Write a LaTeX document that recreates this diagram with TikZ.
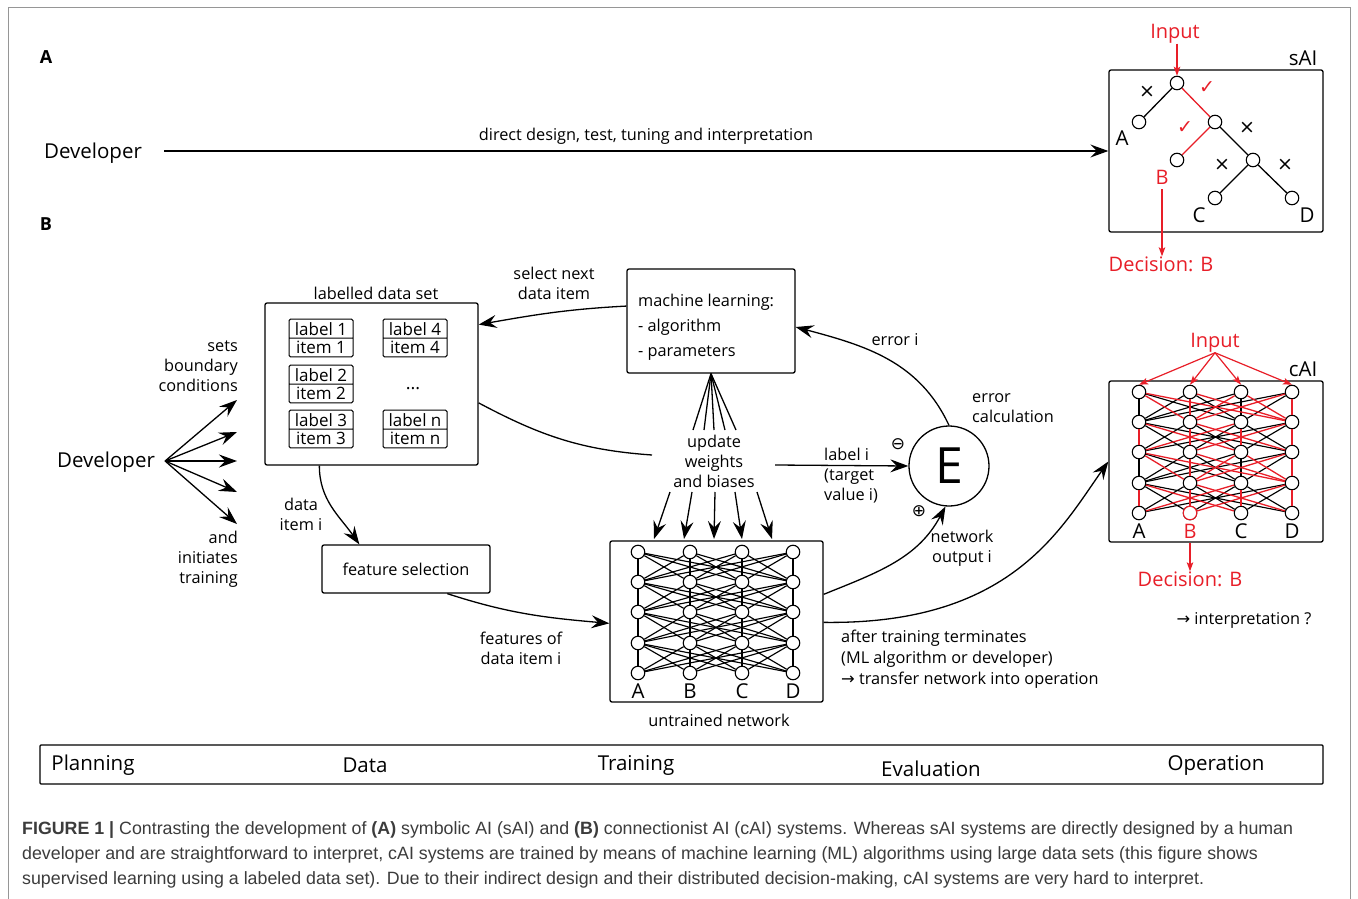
\documentclass[tikz,border=0pt]{standalone}
\usepackage{fontspec}
\setmainfont{Open Sans}
\newfontfamily\sym{DejaVu Sans}
\newfontfamily\capfont{Liberation Sans}
\usetikzlibrary{arrows.meta,shapes.multipart}
\definecolor{myred}{RGB}{232,30,40}
\definecolor{capgray}{RGB}{60,60,60}
\definecolor{framegray}{RGB}{150,150,150}
\begin{document}
\begin{tikzpicture}[x=1pt,y=-1pt,
 every node/.style={inner sep=0pt},
 lab/.style={font=\fontsize{16.3}{20}\selectfont, align=center},
 big/.style={font=\fontsize{20.5}{24}\selectfont},
 phs/.style={font=\fontsize{20.5}{24}\selectfont},
 redt/.style={font=\fontsize{20}{24}\selectfont, text=myred},
 box/.style={draw, line width=1.3pt, rounded corners=2pt},
 arr/.style={line width=1.3pt, -{Stealth[length=18pt,width=13pt,inset=6.5pt]}},
 rarr/.style={myred, line width=1.2pt, -{Stealth[length=9pt,width=6.5pt,inset=2pt]}},
 ln/.style={line width=1.3pt},
 neuron/.style={circle, draw, line width=1.1pt, fill=white, minimum size=13.5pt},
 netln/.style={line width=1.15pt},
 itembox/.style={rectangle split, rectangle split parts=2, draw, line width=1pt, rounded corners=1.5pt, minimum width=64pt, inner xsep=2pt, inner ysep=2.5pt, font=\fontsize{17}{19}\selectfont},
 tickmark/.style={font=\sym\fontsize{19}{19}\selectfont},
 captext/.style={font=\capfont\fontsize{17.8}{20}\selectfont, text=capgray, anchor=west},
]
\useasboundingbox (0,0) rectangle (1358,899);
\fill[white] (0,0) rectangle (1358,899);
\draw[framegray, line width=1pt] (8,905) -- (8,8) -- (1350,8) -- (1350,905);

% ---------------- Part A ----------------
\node[font=\bfseries\fontsize{18}{20}\selectfont] (lA) at (46,57) {A};
\node[font=\bfseries\fontsize{18}{20}\selectfont] (lB) at (46,224) {B};
\node[big] (dev1) at (93,153) {Developer};
\node[box, minimum width=214pt, minimum height=162pt] (sai) at (1216,151) {};
\draw[arr] ([xshift=22pt]dev1.east |- sai.west) -- (sai.west);
\node[lab] (dd) at (646,136) {direct design, test, tuning and interpretation};
\node[big] (saiT) at (1303,58) {sAI};

\node[neuron] (t0) at (1177,83) {};
\node[neuron] (tA) at (1139,122) {};
\node[neuron] (t1) at (1215,122) {};
\node[neuron] (tB) at (1177,160) {};
\node[neuron] (t2) at (1253,160) {};
\node[neuron] (tC) at (1215,198) {};
\node[neuron] (tD) at (1292,198) {};
\draw[ln] (t0) -- (tA);
\draw[ln, myred] (t0) -- (t1);
\draw[ln, myred] (t1) -- (tB);
\draw[ln] (t1) -- (t2);
\draw[ln] (t2) -- (tC);
\draw[ln] (t2) -- (tD);
\node[big] (lbA) at (1122,138) {A};
\node[redt] (lbB) at (1162,177) {B};
\node[big] (lbC) at (1199,215) {C};
\node[big] (lbD) at (1307,215) {D};
\node[tickmark] (x1) at (1147,92) {×};
\node[tickmark] (x2) at (1247,128) {×};
\node[tickmark] (x3) at (1222,165) {×};
\node[tickmark] (x4) at (1285,165) {×};
\node[tickmark, text=myred] (v1) at (1207,88) {✓};
\node[tickmark, text=myred] (v2) at (1185,128) {✓};
\node[redt] (inS) at (1175,34) {Input};
\draw[rarr] (inS.south -| t0) -- (t0.north);
\node[redt] (decS) at (1161,264) {Decision: B};
\draw[rarr] ([yshift=-5pt]lbB.south) -- (lbB |- decS.north);

% ---------------- Part B ----------------
\node[big] (dev2) at (106,462) {Developer};
\coordinate (hub) at ([xshift=10pt]dev2.east |- 0,461);
\foreach \y [count=\k] in {400,432,461,492,524} {
  \coordinate (fan\k) at (237,\y);
  \draw[arr] (hub) -- (fan\k);
}
\node[lab, anchor=east, align=right] (sbc) at (238,366) {sets\\boundary\\conditions};
\node[lab, anchor=east, align=right] (ait) at (238,559) {and\\initiates\\training};

% labelled data set
\node[lab] (dsT) at (376,293) {labelled data set};
\node[box, minimum width=213pt, minimum height=162pt] (dset) at (371.5,384) {};
\node[itembox] (it1) at (321,338) {label 1\nodepart{two}item 1};
\node[itembox] (it2) at (321,384) {label 2\nodepart{two}item 2};
\node[itembox] (it3) at (321,429) {label 3\nodepart{two}item 3};
\node[itembox] (it4) at (415,338) {label 4\nodepart{two}item 4};
\node[itembox] (itn) at (415,429) {label n\nodepart{two}item n};
\node[font=\fontsize{18}{18}\selectfont] (dots) at (413,389) {...};

% machine learning
\node[lab] (sel) at (554,283) {select next\\data item};
\node[box, minimum width=168pt, minimum height=104pt] (ml) at (711,321) {};
\node[lab, anchor=west, align=left, font=\fontsize{16.3}{25}\selectfont] (mlt) at (638,327) {machine learning:\\- algorithm\\- parameters};
\draw[arr] (ml.170) to[out=183,in=10] (dset.29);

% update weights
\node[lab] (upd) at (714,461) {update\\weights\\and biases};
\coordinate (updL) at (652,455);
\coordinate (updR) at (775,465);
\draw[ln] (dset.-10) to[out=-28,in=176] (updL);
\foreach \x [count=\k] in {693,704,714,725,736} {
  \coordinate (uf\k) at (\x,430);
  \draw[ln] (ml.south) -- (uf\k);
}
\foreach \xa/\xb [count=\k] in {670/654,692/684,715/714,735/742,757/772} {
  \coordinate (ua\k) at (\xa,492);
  \coordinate (ub\k) at (\xb,539);
  \draw[arr] (ua\k) -- (ub\k);
}

% untrained network
\node[box, minimum width=213pt, minimum height=161pt] (net) at (716.5,621.5) {};
\foreach \r/\y in {1/552,2/582,3/612,4/643,5/673} {
  \foreach \c/\x in {1/638,2/690,3/742,4/793} {
    \node[neuron] (u\r\c) at (\x,\y) {};
  }
}
\foreach \r in {1,...,4} {
  \pgfmathtruncatemacro\s{\r+1}
  \foreach \i in {1,...,4} {
    \foreach \j in {1,...,4} {
      \draw[netln] (u\r\i) -- (u\s\j);
    }
  }
}
\foreach \x/\t in {638/A,690/B,742/C,793/D} {
  \node[big] (ul\t) at (\x,691) {\t};
}
\node[lab] (untr) at (719,720) {untrained network};

% error calculation
\node[circle, draw, line width=1.3pt, minimum size=80pt, font=\fontsize{50}{50}\selectfont] (E) at (949,466) {E};
\node[font=\sym\fontsize{17}{17}\selectfont] (minus) at (898,444) {⊖};
\node[font=\sym\fontsize{17}{17}\selectfont] (plus) at (919,511) {⊕};
\node[lab, anchor=west, align=left] (lbi) at (824,476) {label i\\(target\\value i)};
\draw[arr] (updR) -- (E.west);
\node[lab, anchor=west, align=left] (errc) at (972,408) {error\\calculation};
\node[lab] (erri) at (895,340) {error i};
\draw[arr] (E.north) to[out=115,in=-15] ([yshift=-6pt]ml.east);
\node[lab] (nout) at (962,548) {network\\output i};
\draw[arr] ([yshift=-54pt]net.north east) to[out=22,in=-118] (E.-95);

% feature selection
\node[box, lab, minimum width=168pt, minimum height=48pt] (feat) at (406,569) {feature selection};
\draw[arr] ([xshift=55pt]dset.south west) to[out=-90,in=125] ([xshift=38pt]feat.north west);
\node[lab] (dii) at (301,514) {data\\item i};
\draw[arr] ([xshift=126pt]feat.south west) to[out=-18,in=175] ([yshift=-83pt]net.north west);
\node[lab] (fdi) at (521,648) {features of\\data item i};

% operation
\node[box, minimum width=214pt, minimum height=161pt] (cai) at (1216,461.5) {};
\draw[arr] ([yshift=-82pt]net.north east) .. controls (1010,625) and (1060,530) .. (cai.west);
\node[lab, anchor=west, align=left, font=\fontsize{16.3}{21}\selectfont] (att) at (841,659) {after training terminates\\(ML algorithm or developer)\\{\sym →} transfer network into operation};

\foreach \r/\y in {1/392,2/422,3/452,4/483,5/513} {
  \foreach \c/\x in {1/1139,2/1190,3/1241,4/1292} {
    \node[neuron] (c\r\c) at (\x,\y) {};
  }
}
\foreach \r in {1,...,4} {
  \pgfmathtruncatemacro\s{\r+1}
  \foreach \i in {1,...,4} {
    \foreach \j in {1,...,4} {
      \pgfmathtruncatemacro\m{mod(\r*\i+\j+\i,2)}
      \ifnum\m=1 \draw[netln] (c\r\i) -- (c\s\j); \fi
    }
  }
}
\foreach \r in {1,...,4} {
  \pgfmathtruncatemacro\s{\r+1}
  \foreach \i in {1,...,4} {
    \foreach \j in {1,...,4} {
      \pgfmathtruncatemacro\m{mod(\r*\i+\j+\i,2)}
      \ifnum\m=0 \draw[netln, myred, line width=1.3pt] (c\r\i) -- (c\s\j); \fi
    }
  }
}
\node[neuron, draw=myred] (c52) at (1190,513) {};
\node[big] (cA) at (1139,531) {A};
\node[redt] (cB) at (1190,531) {B};
\node[big] (cC) at (1241,531) {C};
\node[big] (cD) at (1292,531) {D};
\node[big] (caiT) at (1303,369) {cAI};
\node[redt] (inC) at (1215,343) {Input};
\foreach \c in {1,...,4} {
  \draw[rarr] (inC.south) -- (c1\c.north);
}
\node[redt] (decC) at (1190,579) {Decision: B};
\draw[rarr] (cB |- cai.south) -- (cB |- decC.north);
\node[lab] (interp) at (1244,620) {{\sym →} interpretation ?};

% phase bar
\node[draw, line width=1.3pt, rounded corners=1pt, minimum width=1283pt, minimum height=39pt] (phase) at (681.5,764.5) {};
\node[phs] (p1) at (93,765) {Planning};
\node[phs] (p2) at (365,765) {Data};
\node[phs] (p3) at (636,765) {Training};
\node[phs] (p4) at (931,769) {Evaluation};
\node[phs] (p5) at (1216,765) {Operation};

% caption
\node[captext] (cap1) at (22,830) {{\bfseries FIGURE 1 |} Contrasting the development of {\bfseries (A)} symbolic AI (sAI) and {\bfseries (B)} connectionist AI (cAI) systems. Whereas sAI systems are directly designed by a human};
\node[captext] (cap2) at (22,855) {developer and are straightforward to interpret, cAI systems are trained by means of machine learning (ML) algorithms using large data sets (this figure shows};
\node[captext] (cap3) at (22,880) {supervised learning using a labeled data set). Due to their indirect design and their distributed decision-making, cAI systems are very hard to interpret.};
\end{tikzpicture}
\end{document}
